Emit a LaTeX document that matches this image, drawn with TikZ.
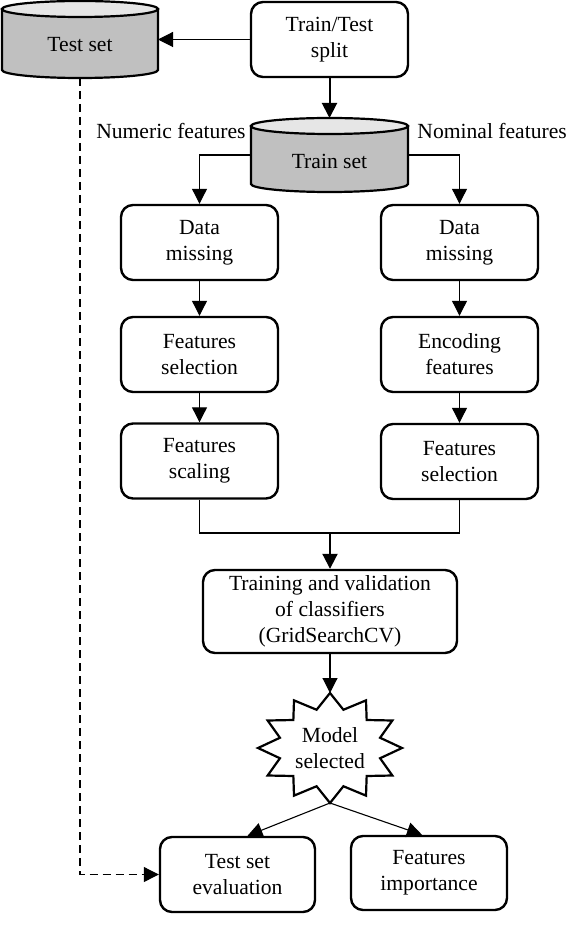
\documentclass[tikz,border=0pt]{standalone}
\usepackage{fontspec}
\setmainfont{Liberation Serif}
\newfontfamily\timesfont{Liberation Serif}
\usetikzlibrary{arrows.meta,calc}
\definecolor{cylbody}{HTML}{C0C0C0}
\definecolor{cyltop}{HTML}{E6E6E6}
\tikzset{
  txt/.style={font=\timesfont\fontsize{10.8}{13}\selectfont, align=center},
  box/.style={txt, draw, line width=1.2pt, rounded corners=6pt, fill=white, inner sep=0pt,
              minimum width=78.5pt, minimum height=37.5pt},
  holder/.style={inner sep=0pt, outer sep=0pt},
  tip/.style={-{Triangle[length=7.5pt,width=7.5pt]}},
  conn/.style={tip, line width=0.55pt},
  thickconn/.style={tip, line width=1pt},
  dashconn/.style={tip, line width=0.55pt, dash pattern=on 4pt off 2.5pt},
  outline/.style={line width=1.1pt},
}
\begin{document}
\begin{tikzpicture}[x=0.5pt,y=-0.5pt]
\useasboundingbox (0,0) rectangle (570,946);

% Test set cylinder
\path[draw, outline, fill=cylbody] (2,9) -- (2,70) arc[start angle=180,end angle=360,x radius=39pt,y radius=4pt] -- (158,9) -- cycle;
\draw[outline, fill=cyltop] (80,9) ellipse[x radius=39pt, y radius=4pt];
\node[holder, minimum width=78pt, minimum height=38.5pt] (testset) at (80,39.5) {};
\node[txt, inner sep=0pt] (testsetlbl) at (80,45) {Test set};

% Train set cylinder
\path[draw, outline, fill=cylbody] (251,126) -- (251,184) arc[start angle=180,end angle=360,x radius=39.25pt,y radius=4pt] -- (408,126) -- cycle;
\draw[outline, fill=cyltop] (329.5,126) ellipse[x radius=39.25pt, y radius=4pt];
\node[holder, minimum width=78.5pt, minimum height=37pt] (trainset) at (329.5,155) {};
\node[txt, inner sep=0pt] (trainsetlbl) at (329.5,161) {Train set};

% Boxes
\node[box] (split) at (329.5,39.5) {Train/Test\\split};
\node[box] (dm1) at (199.5,242.5) {Data\\missing};
\node[box] (fs1) at (199.5,354.5) {Features\\selection};
\node[box] (sc1) at (199.5,461) {Features\\scaling};
\node[box] (dm2) at (459.5,242.5) {Data\\missing};
\node[box] (enc2) at (459.5,354.5) {Encoding\\features};
\node[box] (fs2) at (459.5,461.5) {Features\\selection};
\node[box, minimum width=127pt, minimum height=41.5pt] (train) at (330,611.5) {Training and validation\\of classifiers\\(GridSearchCV)};
\node[box, minimum width=77.5pt] (te) at (237.5,874.5) {Test set\\evaluation};
\node[box, minimum width=78pt, minimum height=37pt] (fi) at (429,873) {Features\\importance};

% Star
\draw[outline, line join=miter, fill=white] plot[samples at={0,1,...,23}, variable=\k]
  ({330+72*(1-0.28*mod(\k,2))*cos(90+15*\k)}, {748-55*(1-0.28*mod(\k,2))*sin(90+15*\k)}) -- cycle;
\node[txt, holder, minimum width=72pt, minimum height=55pt] (model) at (330,748) {Model\\selected};

% Side labels
\node[txt, inner sep=0pt, anchor=base east] (numlbl) at (246,139) {Numeric features};
\node[txt, inner sep=0pt, anchor=base west] (nomlbl) at (417,139) {Nominal features};

% Connectors
\draw[conn] (split.west) -- (split.west -| testset.east);
\draw[thickconn] (split.south) -- (trainset.north);
\draw[conn] (trainset.west) -| (dm1.north);
\draw[conn] (trainset.east) -| (dm2.north);
\draw[conn] (dm1) -- (fs1);
\draw[conn] (fs1) -- (sc1);
\draw[conn] (dm2) -- (enc2);
\draw[conn] (enc2) -- (fs2);
\coordinate (merge) at (330,533);
\draw[line width=0.55pt] (sc1.south) |- (merge) -| (fs2.south);
\draw[thickconn] (merge) -- (train.north);
\draw[conn] (train.south) -- (model.north);
\draw[dashconn] (testset.south) |- (te.west);
\draw[conn] (model.south) -- ([xshift=5pt]te.north);
\draw[conn] (model.south) -- ([xshift=-3.5pt]fi.north);
\end{tikzpicture}
\end{document}
